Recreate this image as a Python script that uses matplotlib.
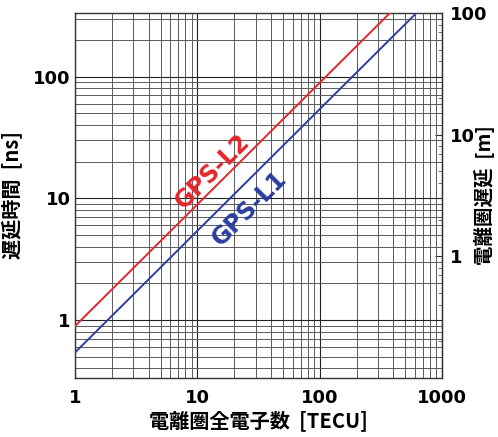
import matplotlib
matplotlib.use("Agg")
import matplotlib.pyplot as plt
from matplotlib.ticker import LogLocator, NullFormatter, FixedLocator, FixedFormatter

# Data
tec = [1, 1000]                 # TECU
l1_ns = [0.54, 540]             # GPS-L1 delay [ns]
l2_ns = [0.89, 890]             # GPS-L2 delay [ns]
x_ticks = [1, 10, 100, 1000]
x_labels = ["1", "10", "100", "1000"]
y_ticks = [1, 10, 100]
y_labels = ["1", "10", "100"]
m_ticks = [1, 10, 100]
m_labels = ["1", "10", "100"]
NS_TO_M = 0.299792458

CJK = ["Noto Sans CJK JP", "DejaVu Sans"]
RED = "#e3262c"
BLUE = "#2b3d9e"

fig = plt.figure(figsize=(4.98, 4.37), dpi=100)
ax = fig.add_axes([0.1506, 0.135, 0.7370, 0.8353])
ax.set_xscale("log")
ax.set_yscale("log")
ax.set_xlim(1, 1000)
ax.set_ylim(0.1 / NS_TO_M, 100 / NS_TO_M)

ax.plot(tec, l2_ns, color=RED, lw=1.4, zorder=3)
ax.plot(tec, l1_ns, color=BLUE, lw=1.4, zorder=3)

ax.xaxis.set_major_locator(FixedLocator(x_ticks))
ax.xaxis.set_major_formatter(FixedFormatter(x_labels))
ax.yaxis.set_major_locator(FixedLocator(y_ticks))
ax.yaxis.set_major_formatter(FixedFormatter(y_labels))
ax.xaxis.set_minor_locator(LogLocator(base=10, subs=range(2, 10)))
ax.yaxis.set_minor_locator(LogLocator(base=10, subs=range(2, 10)))
ax.xaxis.set_minor_formatter(NullFormatter())
ax.yaxis.set_minor_formatter(NullFormatter())

ax.grid(True, which="major", color="#222222", lw=0.8)
ax.grid(True, which="minor", color="#5a5a5a", lw=0.7)
ax.set_axisbelow(True)

ax.tick_params(which="both", length=0)
ax.tick_params(axis="x", pad=8)
ax.tick_params(axis="y", pad=3)
for lab in ax.get_xticklabels() + ax.get_yticklabels():
    lab.set_fontweight("bold")
    lab.set_fontsize(13)

for sp in ax.spines.values():
    sp.set_color("#333333")
    sp.set_linewidth(1.0)

sec = ax.secondary_yaxis("right", functions=(lambda v: v * NS_TO_M, lambda v: v / NS_TO_M))
sec.yaxis.set_major_locator(FixedLocator(m_ticks))
sec.yaxis.set_major_formatter(FixedFormatter(m_labels))
sec.yaxis.set_minor_locator(LogLocator(base=10, subs=range(2, 10)))
sec.yaxis.set_minor_formatter(NullFormatter())
sec.tick_params(which="major", direction="in", length=5, width=0.8, pad=6, colors="#333333", labelcolor="black")
sec.tick_params(which="minor", direction="in", length=3, width=0.6, colors="#555555")
for lab in sec.get_yticklabels():
    lab.set_fontweight("bold")
    lab.set_fontsize(13)
sec.spines["right"].set_color("#333333")

ax.set_xlabel("電離圏全電子数  [TECU]", family=CJK, fontweight="bold", fontsize=14.5, labelpad=2)
ax.set_ylabel("遅延時間  [ns]", family=CJK, fontweight="bold", fontsize=14.5)
ax.yaxis.set_label_coords(-0.145, 0.5)
sec.set_ylabel("電離圏遅延  [m]", family=CJK, fontweight="bold", fontsize=14, rotation=90)
sec.yaxis.set_label_coords(1.088, 0.5, transform=ax.transAxes)

ax.text(13.4, 16.6, "GPS-L2", color=RED, fontsize=17, fontweight="bold",
        rotation=45, rotation_mode="anchor", ha="center", va="center", zorder=4)
ax.text(26.8, 8.3, "GPS-L1", color=BLUE, fontsize=17, fontweight="bold",
        rotation=45, rotation_mode="anchor", ha="center", va="center", zorder=4)

fig.savefig("out.png", dpi=100)
